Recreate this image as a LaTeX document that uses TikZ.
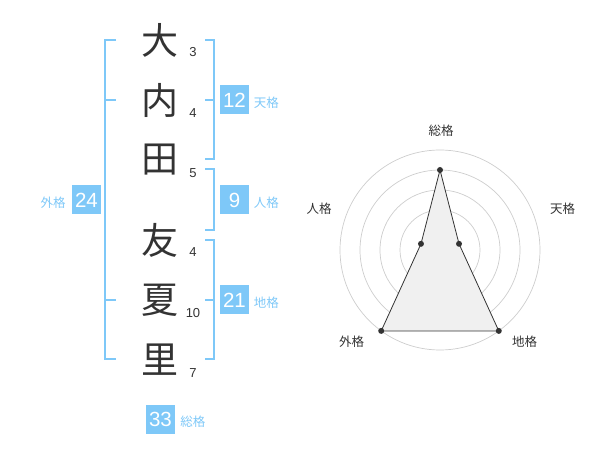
\documentclass[tikz,border=0pt]{standalone}
\usepackage{fontspec}
\setmainfont{Liberation Sans}
\newfontfamily\jpfont{Noto Sans CJK JP}
\definecolor{kakublue}{RGB}{126,200,248}
\definecolor{inkgray}{RGB}{51,51,51}
\definecolor{ringgray}{RGB}{205,205,205}
\usetikzlibrary{positioning}

\begin{document}
\begin{tikzpicture}[x=1pt,y=-1pt,
    kanji/.style={font=\jpfont\fontsize{37}{37}\selectfont, text=inkgray, inner sep=0pt},
    strokes/.style={font=\fontsize{13}{13}\selectfont, text=inkgray, inner sep=0pt},
    kakubox/.style={fill=kakublue, text=white, minimum size=29pt, inner sep=0pt, font=\fontsize{20.5}{20.5}\selectfont},
    kakuname/.style={text=kakublue, font=\jpfont\fontsize{12.5}{12.5}\selectfont, inner sep=0pt, yshift=-3pt},
    axisname/.style={text=inkgray, font=\jpfont\fontsize{12.5}{12.5}\selectfont, inner sep=0pt},
    bracket/.style={draw=kakublue, line width=2pt},
    ring/.style={draw=ringgray, line width=0.7pt}]
  \useasboundingbox (0,0) rectangle (600,470);

  % name
  \node [kanji] (k1) at (160,40) {大};
  \node [kanji] (k2) at (160,100) {内};
  \node [kanji] (k3) at (160,160) {田};
  \node [kanji] (k4) at (160,240) {友};
  \node [kanji] (k5) at (160,300) {夏};
  \node [kanji] (k6) at (160,360) {里};

  % stroke counts
  \node [strokes] (s1) at (193,52) {3};
  \node [strokes] (s2) at (193,113) {4};
  \node [strokes] (s3) at (193,173) {5};
  \node [strokes] (s4) at (193,252) {4};
  \node [strokes] (s5) at (193,313) {10};
  \node [strokes] (s6) at (193,373) {7};

  % brackets
  \draw [bracket] (116,40) -- (105,40) -- (105,359) -- (116,359);
  \draw [bracket] (105,100) -- ++(11,0);
  \draw [bracket] (105,300) -- ++(11,0);
  \draw [bracket] (205,40) -- (214,40) -- (214,159) -- (205,159);
  \draw [bracket] (214,100) -- ++(-9,0);
  \draw [bracket] (205,169) -- (214,169) -- (214,230) -- (205,230);
  \draw [bracket] (205,240) -- (214,240) -- (214,359) -- (205,359);
  \draw [bracket] (214,300) -- ++(-9,0);

  % kaku values
  \node [kakubox] (ten) at (234.5,100) {12};
  \node [kakuname, right=4.5pt of ten] (tenname) {天格};
  \node [kakubox] (jin) at (234.5,200) {9};
  \node [kakuname, right=4.5pt of jin] (jinname) {人格};
  \node [kakubox] (chi) at (234.5,300) {21};
  \node [kakuname, right=4.5pt of chi] (chiname) {地格};
  \node [kakubox] (gai) at (86.5,200) {24};
  \node [kakuname, left=6pt of gai] (gainame) {外格};
  \node [kakubox] (sou) at (160.5,419) {33};
  \node [kakuname, right=5pt of sou] (souname) {総格};

  % radar
  \coordinate (c) at (440,250);
  \foreach \r in {20,40,...,100}
    \draw [ring] (c) circle (\r pt);
  \fill [ringgray] (c) circle (3.5pt);

  \path (c) ++(-90:80) coordinate (psou);
  \path (c) ++(-18:20) coordinate (pten);
  \path (c) ++(54:100) coordinate (pchi);
  \path (c) ++(126:100) coordinate (pgai);
  \path (c) ++(198:20) coordinate (pjin);

  \draw [fill=black!6, draw=inkgray, line width=0.8pt] (psou) -- (pten) -- (pchi) -- (pgai) -- (pjin) -- cycle;
  \foreach \p in {psou,pten,pchi,pgai,pjin}
    \fill [inkgray] (\p) circle (3pt);

  \node [axisname] (asou) at (441,130.5) {総格};
  \node [axisname] (aten) at (562.5,208.5) {天格};
  \node [axisname] (ajin) at (319,208.5) {人格};
  \node [axisname] (agai) at (351.5,342) {外格};
  \node [axisname] (achi) at (524.5,342) {地格};

\end{tikzpicture}
\end{document}
